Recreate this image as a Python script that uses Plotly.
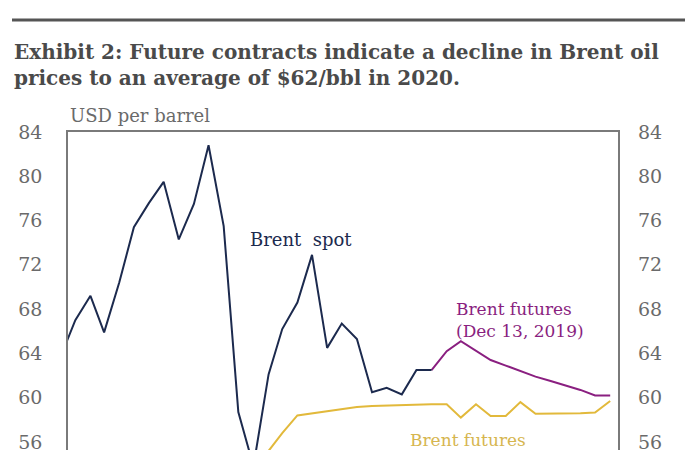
import plotly.graph_objects as go

# ---- data ----
spot_dates = ["2017-11-30", "2017-12-31", "2018-01-31", "2018-02-28", "2018-03-31", "2018-04-30",
              "2018-05-31", "2018-06-30", "2018-07-31", "2018-08-31", "2018-09-30", "2018-10-31",
              "2018-11-30", "2018-12-31", "2019-01-31", "2019-02-28", "2019-03-31", "2019-04-30",
              "2019-05-31", "2019-06-30", "2019-07-31", "2019-08-31", "2019-09-30", "2019-10-31",
              "2019-11-30", "2019-12-31"]
spot_values = [63.6, 67.0, 69.2, 65.9, 70.4, 75.4,
               77.6, 79.5, 74.3, 77.5, 82.8, 75.5,
               58.7, 53.8, 62.1, 66.2, 68.6, 72.9,
               64.5, 66.7, 65.3, 60.5, 60.9, 60.3,
               62.5, 62.5]

fut_dec19_dates = ["2019-12-31", "2020-01-31", "2020-02-29", "2020-03-31", "2020-04-30", "2020-05-31",
                   "2020-06-30", "2020-07-31", "2020-08-31", "2020-09-30", "2020-10-31", "2020-11-30",
                   "2020-12-31"]
fut_dec19_values = [62.5, 64.2, 65.1, 64.2, 63.4, 62.9,
                    62.4, 61.9, 61.5, 61.1, 60.7, 60.2,
                    60.2]

fut_old_dates = ["2019-01-31", "2019-02-28", "2019-03-31", "2019-04-30", "2019-05-31", "2019-06-30",
                 "2019-07-31", "2019-08-31", "2019-09-30", "2019-10-31", "2019-11-30", "2019-12-31",
                 "2020-01-31", "2020-02-29", "2020-03-31", "2020-04-30", "2020-05-31", "2020-06-30",
                 "2020-07-31", "2020-08-31", "2020-09-30", "2020-10-31", "2020-11-30", "2020-12-31"]
fut_old_values = [55.2, 56.8, 58.4, 58.6, 58.8, 59.0,
                  59.15, 59.25, 59.3, 59.3, 59.35, 59.4,
                  59.4, 58.2, 59.4, 58.35, 58.35, 59.6,
                  58.55, 58.55, 58.6, 58.6, 58.65, 59.7]

y_ticks = [52, 56, 60, 64, 68, 72, 76, 80, 84]

NAVY = "#1c2a4e"
PURPLE = "#8a1f80"
GOLD = "#e2b93b"
GOLD_TXT = "#d6b650"
GREY_TXT = "#6a6a6a"
SERIF = "DejaVu Serif"

# page geometry: the chart continues below the 450 px window, as in the source
H = 520
TOP = 132
BOT = 12
PLOT_H = H - TOP - BOT
PX_PER_UNIT = 11.07
y_range = [84 - PLOT_H / PX_PER_UNIT, 84]


def py(px):
    """pixel row -> paper y"""
    return 1 - (px - TOP) / PLOT_H


def pxx(px):
    return (px - 68) / 550


fig = go.Figure()
fig.add_trace(go.Scatter(x=fut_old_dates, y=fut_old_values, mode="lines",
                         line=dict(color=GOLD, width=2), hoverinfo="skip"))
fig.add_trace(go.Scatter(x=fut_dec19_dates, y=fut_dec19_values, mode="lines",
                         line=dict(color=PURPLE, width=2), hoverinfo="skip"))
fig.add_trace(go.Scatter(x=spot_dates, y=spot_values, mode="lines",
                         line=dict(color=NAVY, width=2), hoverinfo="skip"))
# invisible trace to activate right axis
fig.add_trace(go.Scatter(x=[spot_dates[1]], y=[spot_values[1]], mode="lines", yaxis="y2",
                         line=dict(color="rgba(0,0,0,0)"), hoverinfo="skip"))

fig.update_layout(
    width=700, height=H,
    margin=dict(l=68, r=82, t=TOP, b=BOT),
    paper_bgcolor="white", plot_bgcolor="white",
    showlegend=False,
    xaxis=dict(type="date", range=["2017-12-16", "2021-01-16"], showgrid=False,
               showticklabels=False, zeroline=False, showline=True, mirror=True,
               linecolor="#7a7a7a", linewidth=1.5),
    yaxis=dict(range=y_range, tickvals=y_ticks, showgrid=False, zeroline=False,
               showline=True, mirror=True, linecolor="#7a7a7a", linewidth=1.5,
               ticks="", ticklabelstandoff=20,
               tickfont=dict(family=SERIF, size=19, color=GREY_TXT)),
    yaxis2=dict(range=y_range, tickvals=y_ticks, overlaying="y", side="right", showgrid=False,
                zeroline=False, showline=False, ticks="", ticklabelstandoff=19,
                tickfont=dict(family=SERIF, size=19, color=GREY_TXT)),
)

# top rule
fig.add_shape(type="line", xref="paper", yref="paper",
              x0=pxx(12), x1=pxx(685), y0=py(20), y1=py(20),
              line=dict(color="#555555", width=3))

fig.add_annotation(text="<b>Exhibit 2: Future contracts indicate a decline in Brent oil<br>prices to an average of $62/bbl in 2020.</b>",
                   xref="paper", yref="paper", x=pxx(12), y=py(65),
                   xanchor="left", yanchor="middle", align="left", showarrow=False,
                   font=dict(family=SERIF, size=20, color="#4a4a4a"))
fig.add_annotation(text="USD per barrel", xref="paper", yref="paper", x=0, y=py(116),
                   xanchor="left", yanchor="middle", showarrow=False,
                   font=dict(family=SERIF, size=18, color=GREY_TXT))
fig.add_annotation(text="Brent  spot", xref="paper", yref="paper", x=pxx(301), y=py(239),
                   xanchor="center", yanchor="middle", showarrow=False,
                   font=dict(family=SERIF, size=18, color=NAVY))
fig.add_annotation(text="Brent futures<br>(Dec 13, 2019)", xref="paper", yref="paper",
                   x=pxx(454), y=py(319.5), xanchor="left", yanchor="middle",
                   align="left", showarrow=False,
                   font=dict(family=SERIF, size=17, color=PURPLE))
fig.add_annotation(text="Brent futures", xref="paper", yref="paper",
                   x=pxx(408), y=py(440), xanchor="left", yanchor="middle",
                   showarrow=False, font=dict(family=SERIF, size=17, color=GOLD_TXT))

fig.write_html("out.html", config={"displayModeBar": False},
               post_script="document.body.style.margin='0';document.body.style.overflow='hidden';")
